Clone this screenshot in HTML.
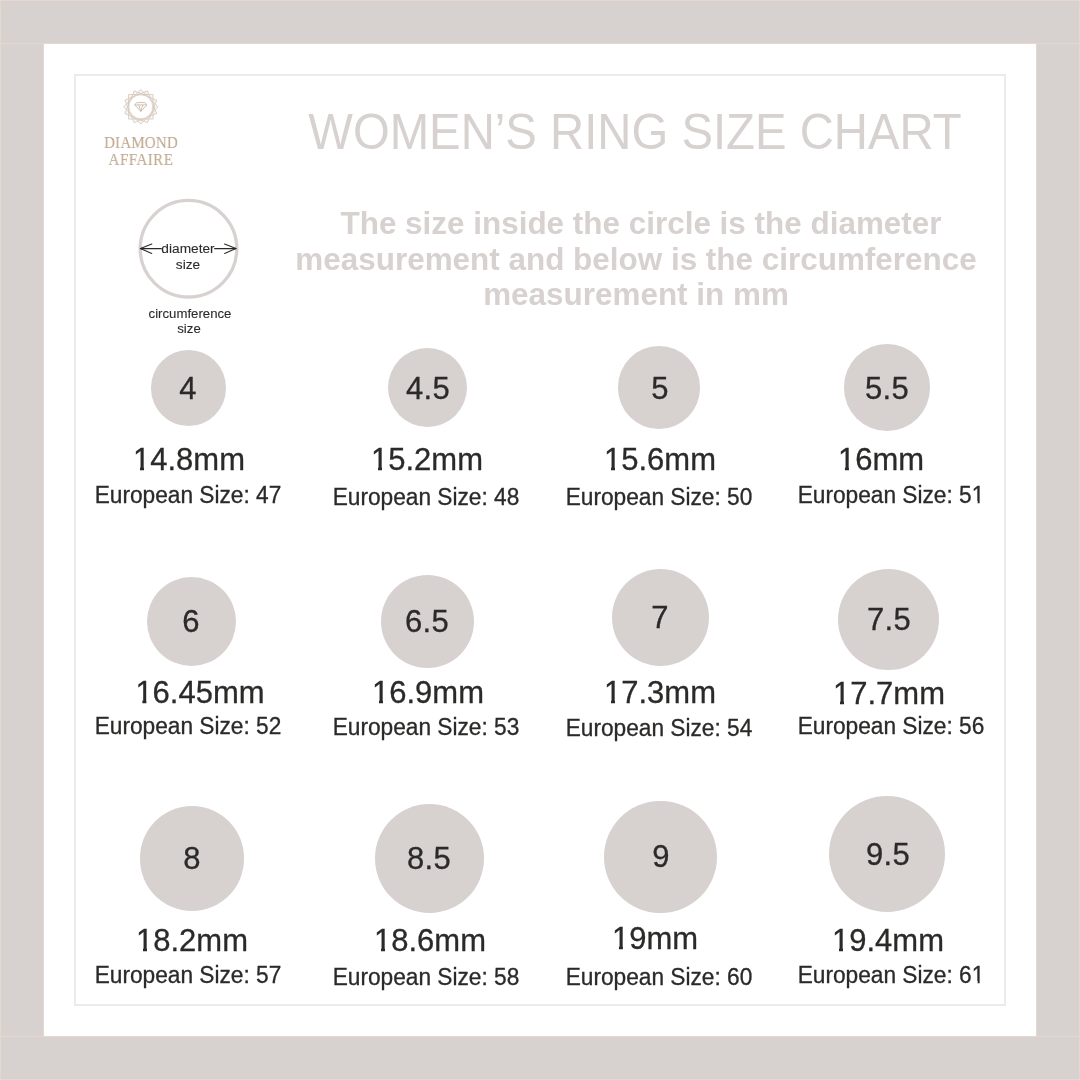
<!DOCTYPE html>
<html lang="en">
<head>
<meta charset="utf-8">
<title>Women's Ring Size Chart</title>
<style>
html,body{margin:0;padding:0;}
body{width:1080px;height:1080px;position:relative;overflow:hidden;background:#ffffff;
 font-family:"Liberation Sans",Arial,Helvetica,sans-serif;color:#2b2a29;}
.bar{position:absolute;background:#d7d1d0;box-sizing:border-box;border:1px solid #e6d8cf;}
.card{position:absolute;left:74px;top:74px;width:932px;height:932px;box-sizing:border-box;border:2px solid #edeaea;background:#fff;}
.t{position:absolute;white-space:nowrap;line-height:1;transform:translateX(-50%);margin:0;padding:0;will-change:transform;}
.title{transform:translateX(-50%) scaleY(1.04);transform-origin:50% 84.65%;}
.num{transform:translateX(-50%) scaleY(1.04);transform-origin:50% 84.65%;letter-spacing:0.35px;}
.mm{transform:translateX(-50%) scaleY(1.025);transform-origin:50% 84.65%;}
.eu{transform:translateX(-50%) scaleY(1.025);transform-origin:50% 84.65%;}
.title{color:#d7d1d0;font-weight:400;}
.sub{color:#d7d1d0;font-weight:700;}
.num,.mm,.eu{-webkit-text-stroke:0.3px #2b2a29;}
.ring{-webkit-text-stroke:0.1px #2b2a29;}
.mm::before,.mm::after,.e1::before,.e1::after{content:"";position:absolute;background:#fff;bottom:0.10em;height:0.163em;}
.mm::before{left:0.03em;width:0.212em;}
.mm::after{left:0.348em;width:0.2em;}
.e1::before{right:0.314em;width:0.212em;}
.e1::after{right:0.008em;width:0.2em;}
.c{position:absolute;border-radius:50%;background:#d7d1d0;}
.brand{color:#bfa78d;font-family:"Liberation Serif","DejaVu Serif",serif;-webkit-text-stroke:0.1px #bfa78d;}
svg{position:absolute;overflow:visible;}
</style>
</head>
<body>

<div class="bar" style="left:0;top:0;width:1080px;height:44px;"></div>
<div class="bar" style="left:0;top:1036px;width:1080px;height:44px;"></div>
<div class="bar" style="left:0;top:43px;width:44px;height:994px;"></div>
<div class="bar" style="left:1036px;top:43px;width:44px;height:994px;"></div>
<div class="card"></div>
<svg class="logo" style="left:115px;top:80px;" width="55" height="55" viewBox="0 0 55 55" fill="none" stroke="#d9cdc0" stroke-width="0.9">
<g transform="translate(25.8 26.8)">
<g fill="#c9b8a4" fill-opacity="0.12">
<rect x="-12.2" y="-12.2" width="24.4" height="24.4"/>
<rect x="-12.2" y="-12.2" width="24.4" height="24.4" transform="rotate(22.5)"/>
<rect x="-12.2" y="-12.2" width="24.4" height="24.4" transform="rotate(45)"/>
<rect x="-12.2" y="-12.2" width="24.4" height="24.4" transform="rotate(67.5)"/>
</g>
<circle r="12.0" fill="#ffffff" stroke="#dcd2c7" stroke-width="0.9"/>
<path d="M-4.1 -4.2 H4.1 L6.1 -1.9 L0 4.6 L-6.1 -1.9 Z M-6.1 -1.9 H6.1 M-2.0 -1.9 L0 4.6 L2.0 -1.9" stroke="#c9baa9" stroke-width="0.9" stroke-linejoin="round"/>
</g>
</svg>
<div class="t brand" style="left:141.20px;top:134.01px;font-size:17.00px;letter-spacing:0.25px;transform:translateX(-50%) scaleX(0.88);">DIAMOND</div>
<div class="t brand" style="left:141.40px;top:151.41px;font-size:17.00px;letter-spacing:0.6px;transform:translateX(-50%) scaleX(0.88);">AFFAIRE</div>
<div class="t title" style="left:634.80px;top:108.96px;font-size:47.30px;">WOMEN&rsquo;S RING SIZE CHART</div>
<div class="t sub" style="left:641.10px;top:207.88px;font-size:31.45px;">The size inside the circle is the diameter</div>
<div class="t sub" style="left:636.10px;top:243.58px;font-size:31.45px;">measurement and below is the circumference</div>
<div class="t sub" style="left:636.30px;top:279.18px;font-size:31.45px;">measurement in mm</div>
<svg style="left:130px;top:190px;" width="120" height="120" viewBox="130 190 120 120" fill="none">
<circle cx="188.5" cy="248.7" r="48.3" stroke="#d7d1d0" stroke-width="3.3"/>
<g stroke="#2b2a29" stroke-width="1.1" stroke-linecap="round" stroke-linejoin="round">
<path d="M140.4 248.6 H161.3 M214.6 248.6 H236.0"/>
<path d="M151.8 244.0 L140.4 248.6 L151.8 253.4"/>
<path d="M224.6 244.0 L236.0 248.6 L224.6 253.4"/>
</g>
</svg>
<div class="t ring" style="left:187.80px;top:241.70px;font-size:13.70px;">diameter</div>
<div class="t ring" style="left:188.00px;top:258.10px;font-size:13.70px;">size</div>
<div class="t ring" style="left:189.50px;top:306.93px;font-size:13.20px;">circumference</div>
<div class="t ring" style="left:189.40px;top:322.13px;font-size:13.20px;">size</div>
<div class="c" style="left:150.75px;top:350.45px;width:75.30px;height:75.30px;"></div>
<div class="t num" style="left:187.90px;top:372.76px;font-size:31.00px;">4</div>
<div class="t mm" style="left:189.40px;top:444.46px;font-size:31.00px;">14.8mm</div>
<div class="t eu" style="left:187.80px;top:483.88px;font-size:22.70px;">European Size: 47</div>
<div class="c" style="left:387.50px;top:347.50px;width:79.40px;height:79.40px;"></div>
<div class="t num" style="left:427.50px;top:372.71px;font-size:31.00px;">4.5</div>
<div class="t mm" style="left:427.15px;top:444.06px;font-size:31.00px;">15.2mm</div>
<div class="t eu" style="left:426.20px;top:486.28px;font-size:22.70px;">European Size: 48</div>
<div class="c" style="left:618.10px;top:346.45px;width:82.40px;height:82.40px;"></div>
<div class="t num" style="left:659.55px;top:372.66px;font-size:31.00px;">5</div>
<div class="t mm" style="left:659.65px;top:444.06px;font-size:31.00px;">15.6mm</div>
<div class="t eu" style="left:659.10px;top:486.08px;font-size:22.70px;">European Size: 50</div>
<div class="c" style="left:843.60px;top:344.40px;width:86.20px;height:86.20px;"></div>
<div class="t num" style="left:887.15px;top:372.66px;font-size:31.00px;">5.5</div>
<div class="t mm" style="left:881.05px;top:444.06px;font-size:31.00px;">16mm</div>
<div class="t eu e1" style="left:890.90px;top:483.68px;font-size:22.70px;">European Size: 51</div>
<div class="c" style="left:146.65px;top:577.00px;width:88.90px;height:88.90px;"></div>
<div class="t num" style="left:191.25px;top:606.46px;font-size:31.00px;">6</div>
<div class="t mm" style="left:199.55px;top:676.86px;font-size:31.00px;">16.45mm</div>
<div class="t eu" style="left:187.80px;top:715.08px;font-size:22.70px;">European Size: 52</div>
<div class="c" style="left:380.85px;top:574.75px;width:93.50px;height:93.50px;"></div>
<div class="t num" style="left:427.20px;top:605.86px;font-size:31.00px;">6.5</div>
<div class="t mm" style="left:427.55px;top:676.86px;font-size:31.00px;">16.9mm</div>
<div class="t eu" style="left:426.20px;top:716.08px;font-size:22.70px;">European Size: 53</div>
<div class="c" style="left:611.95px;top:569.05px;width:97.10px;height:97.10px;"></div>
<div class="t num" style="left:660.00px;top:602.16px;font-size:31.00px;">7</div>
<div class="t mm" style="left:660.30px;top:676.86px;font-size:31.00px;">17.3mm</div>
<div class="t eu" style="left:659.10px;top:717.48px;font-size:22.70px;">European Size: 54</div>
<div class="c" style="left:838.40px;top:568.80px;width:101.00px;height:101.00px;"></div>
<div class="t num" style="left:888.70px;top:604.36px;font-size:31.00px;">7.5</div>
<div class="t mm" style="left:889.00px;top:677.66px;font-size:31.00px;">17.7mm</div>
<div class="t eu" style="left:890.90px;top:715.08px;font-size:22.70px;">European Size: 56</div>
<div class="c" style="left:139.85px;top:806.45px;width:104.10px;height:104.10px;"></div>
<div class="t num" style="left:191.80px;top:842.96px;font-size:31.00px;">8</div>
<div class="t mm" style="left:192.45px;top:924.86px;font-size:31.00px;">18.2mm</div>
<div class="t eu" style="left:187.80px;top:963.88px;font-size:22.70px;">European Size: 57</div>
<div class="c" style="left:374.85px;top:803.85px;width:108.80px;height:108.80px;"></div>
<div class="t num" style="left:429.45px;top:843.46px;font-size:31.00px;">8.5</div>
<div class="t mm" style="left:429.75px;top:924.66px;font-size:31.00px;">18.6mm</div>
<div class="t eu" style="left:426.20px;top:966.48px;font-size:22.70px;">European Size: 58</div>
<div class="c" style="left:604.20px;top:800.60px;width:112.40px;height:112.40px;"></div>
<div class="t num" style="left:660.90px;top:841.16px;font-size:31.00px;">9</div>
<div class="t mm" style="left:654.80px;top:923.06px;font-size:31.00px;">19mm</div>
<div class="t eu" style="left:659.10px;top:966.28px;font-size:22.70px;">European Size: 60</div>
<div class="c" style="left:828.50px;top:795.75px;width:116.50px;height:116.50px;"></div>
<div class="t num" style="left:887.65px;top:839.16px;font-size:31.00px;">9.5</div>
<div class="t mm" style="left:888.25px;top:924.66px;font-size:31.00px;">19.4mm</div>
<div class="t eu e1" style="left:890.90px;top:963.88px;font-size:22.70px;">European Size: 61</div>
</body>
</html>
